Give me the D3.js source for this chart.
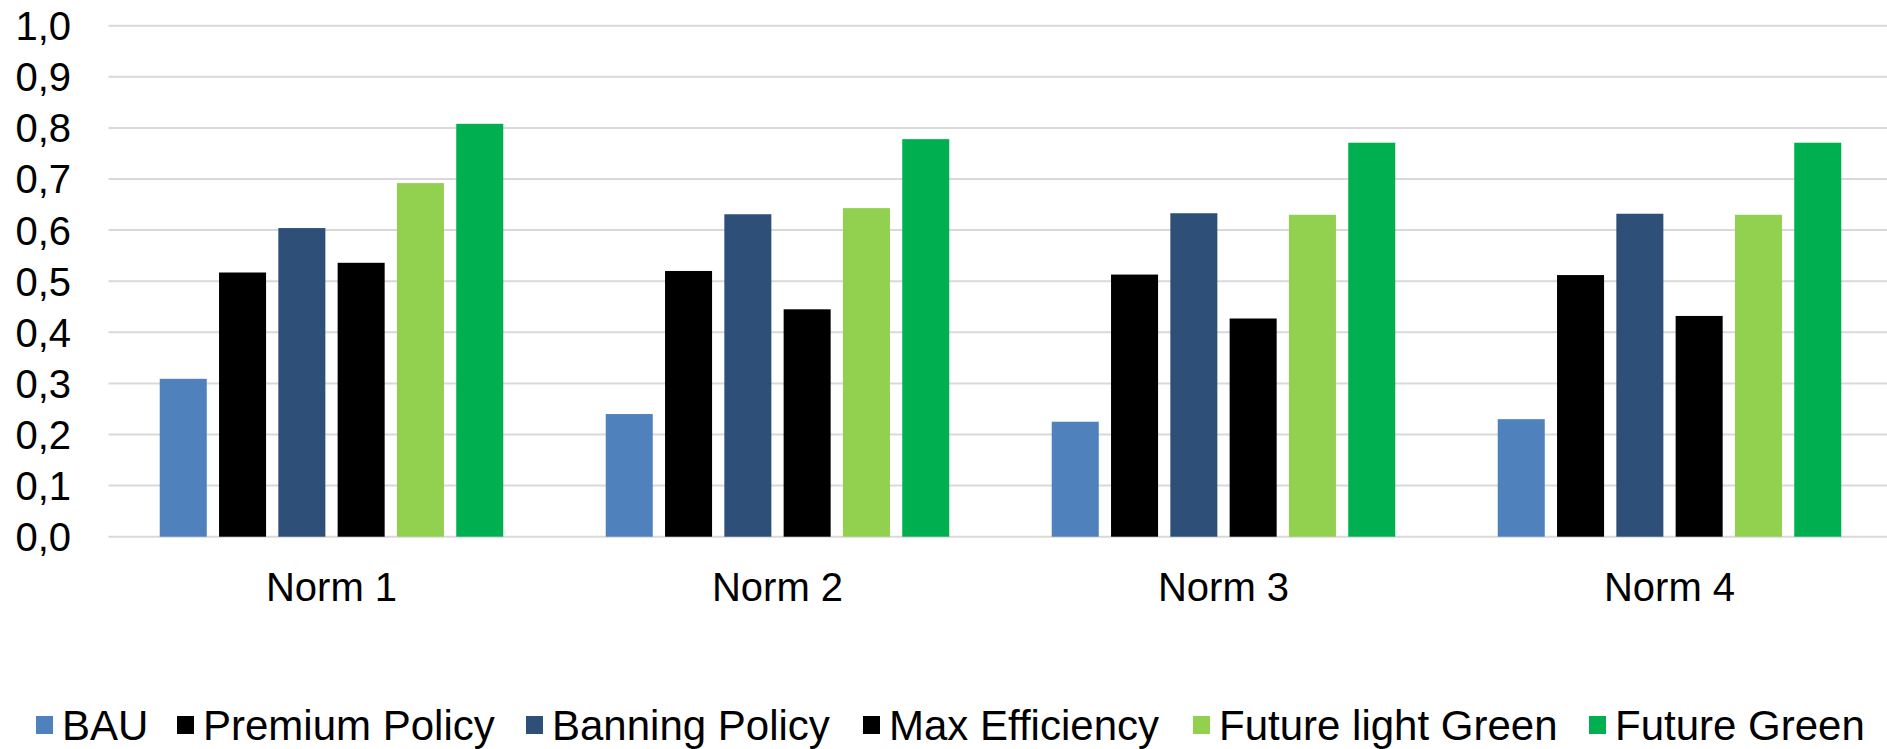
<!DOCTYPE html>
<html>
<head>
<meta charset="utf-8">
<script src="https://cdn.jsdelivr.net/npm/d3@7/dist/d3.min.js"></script>
<style>
  html, body { margin: 0; padding: 0; background: #ffffff; }
  svg { display: block; }
  text { font-family: "Liberation Sans", Arial, sans-serif; fill: #000; }
</style>
</head>
<body>
<svg id="chart" width="1887" height="749"></svg>
<script>
// Categories and series
const categories = ["Norm 1", "Norm 2", "Norm 3", "Norm 4"];
const seriesNames = ["BAU", "Premium Policy", "Banning Policy", "Max Efficiency", "Future light Green", "Future Green"];
const seriesColors = ["#4f81bd", "#000000", "#2d4f78", "#000000", "#92d050", "#00b050"];

// Values per series, one entry per category
const bau            = [0.309, 0.240, 0.225, 0.230];
const premiumPolicy  = [0.517, 0.520, 0.513, 0.512];
const banningPolicy  = [0.604, 0.631, 0.633, 0.632];
const maxEfficiency  = [0.536, 0.445, 0.427, 0.432];
const futureLightGreen = [0.692, 0.643, 0.630, 0.630];
const futureGreen    = [0.808, 0.778, 0.771, 0.771];

const yTicks = [0, 0.1, 0.2, 0.3, 0.4, 0.5, 0.6, 0.7, 0.8, 0.9, 1.0];

const seriesValues = [bau, premiumPolicy, banningPolicy, maxEfficiency, futureLightGreen, futureGreen];

const svg = d3.select("#chart");

const plot = { left: 108.5, right: 1892.5, top: 25.7, bottom: 536.7 };

const x0 = d3.scaleBand().domain(categories).range([plot.left, plot.right]).padding(0);
const x1 = d3.scaleBand().domain(seriesNames).range([0, x0.bandwidth()])
  .paddingInner(0.207).paddingOuter(0.864);
const y = d3.scaleLinear().domain([0, 1]).range([plot.bottom, plot.top]);

// Horizontal gridlines
svg.append("g")
  .selectAll("line")
  .data(yTicks)
  .join("line")
  .attr("x1", plot.left)
  .attr("x2", plot.right)
  .attr("y1", d => y(d))
  .attr("y2", d => y(d))
  .attr("stroke", "#d9d9d9")
  .attr("stroke-width", 2);

// Y axis labels (comma decimal)
const fmt = d => d3.format(".1f")(d).replace(".", ",");
svg.append("g")
  .selectAll("text")
  .data(yTicks)
  .join("text")
  .attr("x", 71)
  .attr("y", d => y(d))
  .attr("dy", "0.36em")
  .attr("text-anchor", "end")
  .style("font-size", "40px")
  .text(fmt);

// Bars
const groups = svg.append("g")
  .selectAll("g")
  .data(categories)
  .join("g")
  .attr("transform", d => `translate(${x0(d)},0)`);

groups.selectAll("rect")
  .data((c, ci) => seriesNames.map((s, si) => ({ s, si, v: seriesValues[si][ci] })))
  .join("rect")
  .attr("x", d => x1(d.s))
  .attr("width", x1.bandwidth())
  .attr("y", d => y(d.v))
  .attr("height", d => y(0) - y(d.v))
  .attr("fill", d => seriesColors[d.si]);

// Category labels
svg.append("g")
  .selectAll("text")
  .data(categories)
  .join("text")
  .attr("x", d => x0(d) + x0.bandwidth() / 2)
  .attr("y", 601)
  .attr("text-anchor", "middle")
  .style("font-size", "40px")
  .text(d => d);

// Legend
const legendX = [36, 177, 526, 863, 1193, 1589];
const legend = svg.append("g");
const items = legend.selectAll("g")
  .data(seriesNames)
  .join("g")
  .attr("transform", (d, i) => `translate(${legendX[i]},0)`);
items.append("rect")
  .attr("x", 0)
  .attr("y", 716)
  .attr("width", 17)
  .attr("height", 18)
  .attr("fill", (d, i) => seriesColors[i]);
items.append("text")
  .attr("x", 26)
  .attr("y", 740)
  .style("font-size", "42px")
  .text(d => d);
</script>
</body>
</html>
